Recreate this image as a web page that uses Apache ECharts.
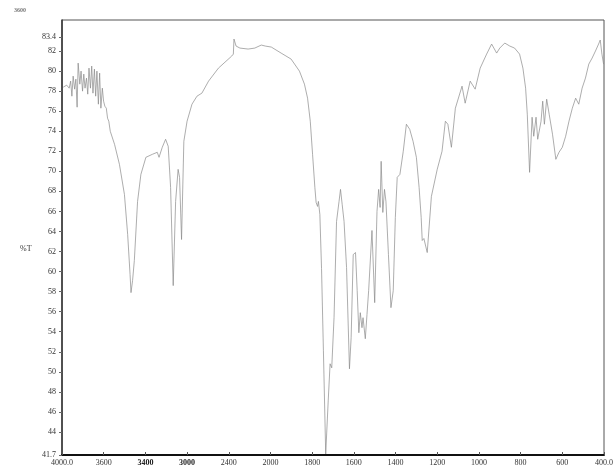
<!DOCTYPE html>
<html>
<head>
<meta charset="utf-8">
<script src="https://cdn.jsdelivr.net/npm/echarts@6/dist/echarts.min.js"></script>
<style>
  html,body{margin:0;padding:0;background:#fff;}
  #chart{width:616px;height:471px;}
</style>
</head>
<body>
<div id="chart"></div>
<script>
// ========= data =========
const xTickLabels = ["4000.0","3600","3400","3000","2400","2000","1800","1600","1400","1200","1000","800","600","400.0"];
const yTickValues = [41.7,44,46,48,50,52,54,56,58,60,62,64,66,68,70,72,74,76,78,80,82,83.4];

// wavenumber (cm-1) / %T
const wavenumber = [
  3988,3955,3931,3917,3905,3893,3879,3867,3855,3845,3829,3817,3803,3791,3779,3765,3753,3741,3727,3715,
  3703,3689,3677,3665,3651,3639,3627,3613,3601,3589,3575,3563,3551,3537,3496,3449,3401,3370,3347,3338,
  3323,3306,3275,3243,3195,3133,3086,3069,3038,3006,2981,2958,2933,2910,2886,2872,2853,2831,2800,2753,
  2705,2658,2594,2499,2372,2356,2350,2330,2293,2214,2150,2088,2050,1996,1949,1901,1861,1837,1822,1809,
  1798,1787,1781,1774,1770,1763,1755,1746,1735,1723,1714,1706,1695,1683,1671,1664,1656,1647,1635,1621,
  1613,1603,1592,1584,1576,1569,1561,1556,1545,1537,1529,1513,1508,1500,1489,1481,1474,1469,1461,1453,
  1446,1434,1422,1411,1401,1392,1379,1363,1348,1332,1316,1300,1287,1277,1272,1264,1248,1228,1200,1177,
  1161,1149,1132,1113,1081,1066,1042,1018,994,963,939,915,900,876,852,829,805,789,776,768,
  757,745,737,726,718,702,694,686,675,663,647,631,616,600,584,568,552,536,521,505,
  489,473,457,441,426,418,410,402
];
const transmittance = [
  78.4,78.6,78.3,79.0,77.5,79.5,78.2,79.2,76.4,80.8,78.7,80.0,78.0,79.7,78.3,79.3,77.7,80.3,78.3,80.5,
  77.8,80.2,77.5,80.0,76.7,79.8,76.3,78.3,77.0,76.5,76.3,75.3,75.0,74.0,72.7,70.7,67.7,63.7,59.7,57.9,
  59.1,61.1,67.0,69.7,71.4,71.7,71.9,71.4,72.4,73.2,72.5,68.4,58.6,67.0,70.2,69.4,63.2,73.0,75.0,76.7,
  77.5,77.8,79.0,80.3,81.5,81.7,83.2,82.5,82.3,82.2,82.3,82.6,82.5,82.4,81.8,81.2,80.0,78.7,77.3,75.0,
  71.7,68.4,66.9,66.5,67.0,65.7,60.3,52.1,41.8,47.1,50.8,50.4,55.4,65.0,67.0,68.2,66.7,65.0,60.4,50.3,
  53.4,61.7,61.9,58.1,53.9,55.9,54.4,55.4,53.3,55.7,58.1,64.1,64.2,56.9,66.0,68.2,66.4,71.0,65.9,68.2,
  67.0,61.7,56.4,58.1,65.4,69.4,69.7,72.0,74.7,74.2,73.0,71.4,68.4,65.4,63.1,63.3,61.9,67.5,70.2,72.0,
  75.0,74.7,72.4,76.3,78.5,76.8,79.0,78.2,80.3,81.7,82.7,81.8,82.3,82.8,82.5,82.3,81.7,80.3,78.3,75.7,
  69.9,75.4,73.5,75.4,73.2,75.0,77.0,74.7,77.2,75.7,73.7,71.2,71.9,72.4,73.5,75.0,76.3,77.3,76.7,78.3,
  79.3,80.7,81.3,82.0,82.7,83.1,81.7,80.7
];

// instrument axis: 400 cm-1 per division above 2000, 200 cm-1 per division below
function toAxis(wn){
    return wn >= 2000 ? (4000 - wn) / 400 : 5 + (2000 - wn) / 200;
}

const points = wavenumber.map((w,i)=>[toAxis(w), transmittance[i]]);

const chart = echarts.init(document.getElementById("chart"));
const serif = "Liberation Serif";

chart.setOption({
    animation:false,
    backgroundColor:"#fff",
    grid:{left:62,right:7,top:20,bottom:16,show:true,borderColor:"#555",borderWidth:1,backgroundColor:"transparent"},
    graphic:[
        {type:"text",left:14,top:7,style:{text:"3600",font:"bold 6px "+serif,fill:"#777"}},
        {type:"text",left:20,top:245,style:{text:"%T",font:"8px "+serif,fill:"#333"}}
    ],
    xAxis:{
        type:"value",min:0,max:13,interval:1,
        axisLine:{show:true,onZero:false,lineStyle:{color:"#111",width:2}},
        axisTick:{show:true,length:3,inside:true,lineStyle:{color:"#555",width:1}},
        splitLine:{show:false},
        axisLabel:{
            margin:4,fontFamily:serif,fontSize:8,color:"#333",
            formatter:v=>{
                const t = xTickLabels[Math.round(v)];
                return (t==="3400"||t==="3000") ? "{b|"+t+"}" : t;
            },
            rich:{b:{fontFamily:serif,fontSize:8,fontWeight:"bold",color:"#222"}}
        }
    },
    yAxis:{
        type:"value",min:41.7,max:85.1,
        axisLine:{show:true,lineStyle:{color:"#333",width:1.5}},
        axisTick:{show:true,length:3,customValues:yTickValues,lineStyle:{color:"#666"}},
        splitLine:{show:false},
        axisLabel:{customValues:yTickValues,margin:6,fontFamily:serif,fontSize:8,color:"#333",
            formatter:v=>String(v)}
    },
    series:[{
        type:"line",
        data:points,
        showSymbol:false,
        smooth:false,
        lineStyle:{color:"#8a8a8a",width:0.7}
    }]
});
</script>
</body>
</html>
